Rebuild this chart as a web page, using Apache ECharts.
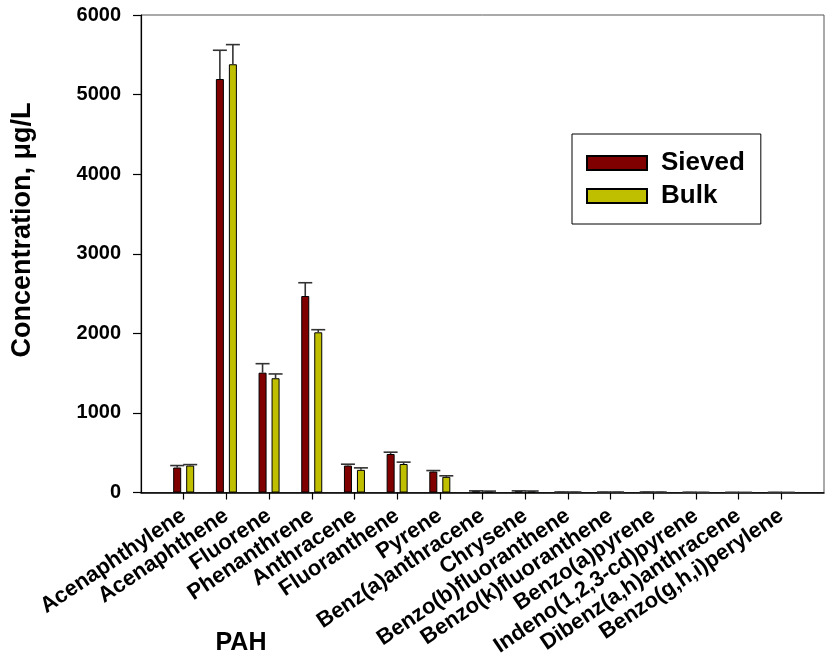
<!DOCTYPE html>
<html>
<head>
<meta charset="utf-8">
<script src="https://cdn.jsdelivr.net/npm/echarts@6/dist/echarts.min.js"></script>
<style>html,body{margin:0;padding:0;background:#fff}#c{width:828px;height:659px}</style>
</head>
<body>
<div id="c"></div>
<script>
const categories = ['Acenaphthylene','Acenaphthene','Fluorene','Phenanthrene','Anthracene','Fluoranthene','Pyrene','Benz(a)anthracene','Chrysene','Benzo(b)fluoranthene','Benzo(k)fluoranthene','Benzo(a)pyrene','Indeno(1,2,3-cd)pyrene','Dibenz(a,h)anthracene','Benzo(g,h,i)perylene'];
const sieved    = [314, 5196, 1506, 2469, 339, 484, 264, 18, 18, 6, 5, 6, 3, 2, 2];
const sievedErr = [25, 361, 113, 167, 17, 23, 12, 3, 3, 1, 1, 1, 1, 1, 1];
const bulk      = [339, 5381, 1436, 2013, 285, 358, 197, 15, 16, 5, 5, 5, 2, 1, 1];
const bulkErr   = [12, 247, 54, 33, 25, 24, 13, 3, 3, 1, 1, 1, 1, 1, 1];
const yTicks = [0, 1000, 2000, 3000, 4000, 5000, 6000];

const FONT = '"Liberation Sans", Arial, sans-serif';
const BAR_W = 8, BAR_GAP_PX = 5;
const axisCats = [''].concat(categories, ['']);
const pad = arr => ['-'].concat(arr, ['-']);

function errSeries(name, vals, errs, sign) {
  return {
    type: 'custom', name: name + ' err', z: 5, silent: true,
    data: categories.map((c, i) => [c, vals[i], errs[i]]),
    renderItem: function (params, api) {
      const off = sign * (BAR_W + BAR_GAP_PX) / 2;
      const p0 = api.coord([api.value(0), api.value(1)]);
      const p1 = api.coord([api.value(0), api.value(1) + api.value(2)]);
      const x = p0[0] + off;
      const st = { stroke: '#333', lineWidth: 1.6 };
      return { type: 'group', children: [
        { type: 'line', shape: { x1: x, y1: p0[1], x2: x, y2: p1[1] }, style: st },
        { type: 'line', shape: { x1: x - 7, y1: p1[1], x2: x + 7, y2: p1[1] }, style: st }
      ]};
    }
  };
}

const chart = echarts.init(document.getElementById('c'));
chart.setOption({
  animation: false,
  backgroundColor: '#fff',
  grid: { left: 141, top: 15, right: 4, bottom: 166, show: true, borderColor: '#555', borderWidth: 1 },
  legend: {
    data: ['Sieved', 'Bulk'],
    orient: 'vertical', left: 572, top: 134,
    padding: [16, 16, 15, 14],
    itemWidth: 60, itemHeight: 14, itemGap: 7, icon: 'rect',
    borderColor: '#000', borderWidth: 1,
    textStyle: { fontFamily: FONT, fontWeight: 'bold', fontSize: 26, color: '#000', padding: [0, 0, 0, 9] }
  },
  xAxis: {
    type: 'category', data: axisCats, boundaryGap: false,
    axisLine: { lineStyle: { color: '#000', width: 1.5 } },
    axisTick: { show: true, length: 7, inside: false, interval: (i, v) => v !== '', lineStyle: { color: '#000', width: 1.2 } },
    axisLabel: { interval: 0, rotate: 34, margin: 21, fontFamily: FONT, fontWeight: 'bold', fontSize: 22, color: '#000' },
    splitLine: { show: false }
  },
  yAxis: {
    type: 'value', min: yTicks[0], max: yTicks[yTicks.length - 1], interval: yTicks[1] - yTicks[0],
    axisLine: { show: true, lineStyle: { color: '#000', width: 1.2 } },
    axisTick: { show: true, length: 8, inside: false, lineStyle: { color: '#000', width: 1.2 } },
    axisLabel: { margin: 20, fontFamily: FONT, fontWeight: 'bold', fontSize: 20, color: '#000', formatter: v => String(v) },
    splitLine: { show: false }
  },
  graphic: [
    { type: 'text', x: 23, y: 230, rotation: Math.PI / 2,
      style: { text: 'Concentration, μg/L', font: 'bold 27px ' + FONT, fill: '#000', align: 'center', verticalAlign: 'middle' } },
    { type: 'text', x: 241, y: 643,
      style: { text: 'PAH', font: 'bold 25px ' + FONT, fill: '#000', align: 'center', verticalAlign: 'middle' } }
  ],
  series: [
    { type: 'bar', name: 'Sieved', data: pad(sieved), barWidth: BAR_W, barGap: (BAR_GAP_PX / BAR_W * 100) + '%',
      itemStyle: { color: '#800000', borderColor: '#000', borderWidth: 1 } },
    { type: 'bar', name: 'Bulk', data: pad(bulk), barWidth: BAR_W,
      itemStyle: { color: '#BFBF00', borderColor: '#000', borderWidth: 1 } },
    errSeries('Sieved', sieved, sievedErr, -1),
    errSeries('Bulk', bulk, bulkErr, 1)
  ]
});
</script>
</body>
</html>
